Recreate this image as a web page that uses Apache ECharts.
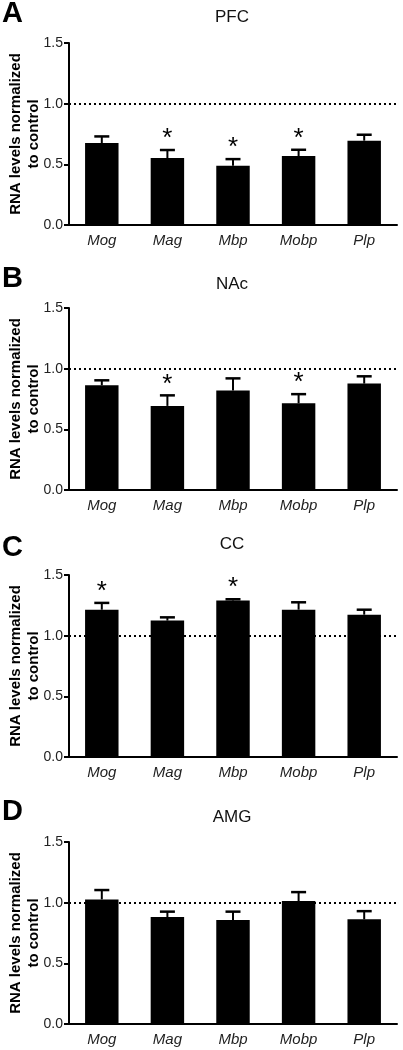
<!DOCTYPE html>
<html>
<head>
<meta charset="utf-8">
<script src="https://cdn.jsdelivr.net/npm/echarts@6/dist/echarts.min.js"></script>
<style>
html,body{margin:0;padding:0;background:#fff;}
#chart{width:403px;height:1050px;}
</style>
</head>
<body>
<div id="chart"></div>
<script>
// ---- data ----
var genes = ['Mog', 'Mag', 'Mbp', 'Mobp', 'Plp'];
var panelLetters = ['A', 'B', 'C', 'D'];
var regions = ['PFC', 'NAc', 'CC', 'AMG'];
var yTicks = [0, 0.5, 1.0, 1.5];
var controlLevel = 1.0;

var pfcMean = [0.676, 0.552, 0.488, 0.568, 0.695];
var pfcSem  = [0.054, 0.066, 0.055, 0.052, 0.049];
var pfcSig  = [0, 1, 1, 1, 0];

var nacMean = [0.863, 0.693, 0.820, 0.715, 0.877];
var nacSem  = [0.041, 0.087, 0.100, 0.075, 0.060];
var nacSig  = [0, 1, 0, 1, 0];

var ccMean  = [1.214, 1.124, 1.289, 1.214, 1.173];
var ccSem   = [0.056, 0.027, 0.011, 0.061, 0.041];
var ccSig   = [1, 0, 1, 0, 0];

var amgMean = [1.027, 0.882, 0.857, 1.013, 0.863];
var amgSem  = [0.077, 0.044, 0.069, 0.074, 0.067];
var amgSig  = [0, 0, 0, 0, 0];

var means = [pfcMean, nacMean, ccMean, amgMean];
var sems  = [pfcSem, nacSem, ccSem, amgSem];
var sigs  = [pfcSig, nacSig, ccSig, amgSig];

// ---- layout ----
var FONT = '"Liberation Sans", Arial, Helvetica, sans-serif';
var gridTops = [43, 308, 575, 842];
var gridH = 182;
var letterY = [14, 279, 548, 812];
var titleY = [17, 284, 544, 817];

var chart = echarts.init(document.getElementById('chart'), null, {renderer: 'canvas'});

var grids = [], xAxes = [], yAxes = [], series = [], titles = [];

for (var p = 0; p < 4; p++) {
  grids.push({left: 69, right: 6, top: gridTops[p], height: gridH, containLabel: false, outerBoundsMode: 'none'});
  xAxes.push({
    type: 'category', gridIndex: p, data: genes,
    axisLine: {lineStyle: {color: '#000', width: 2}},
    axisTick: {alignWithLabel: true, length: 4, lineStyle: {color: '#000', width: 2}},
    axisLabel: {fontFamily: FONT, fontSize: 15, fontStyle: 'italic', color: '#222', margin: 8}
  });
  yAxes.push({
    type: 'value', gridIndex: p, min: 0, max: 1.5, interval: 0.5,
    name: 'RNA levels normalized\nto control',
    nameLocation: 'middle', nameGap: 26, nameRotate: 90, nameMoveOverlap: false,
    nameTextStyle: {fontFamily: FONT, fontSize: 15, fontWeight: 'bold', color: '#000', lineHeight: 18, align: 'center'},
    axisLine: {show: true, lineStyle: {color: '#000', width: 2}},
    axisTick: {show: true, length: 5, lineStyle: {color: '#000', width: 2}},
    axisLabel: {fontFamily: FONT, fontSize: 14, color: '#222', margin: 6,
      formatter: function (v) { return v.toFixed(1); }},
    splitLine: {show: false}
  });

  series.push({
    type: 'bar', xAxisIndex: p, yAxisIndex: p,
    data: means[p], barWidth: '51%',
    itemStyle: {color: '#000'},
    silent: true,
    markLine: {
      silent: true, symbol: 'none',
      label: {show: false},
      lineStyle: {color: '#000', type: [2, 3], width: 2},
      data: [{yAxis: controlLevel}]
    },
    z: 2
  });

  (function (pi) {
    series.push({
      type: 'custom', xAxisIndex: pi, yAxisIndex: pi,
      data: means[pi].map(function (m, i) { return [i, m, m + sems[pi][i]]; }),
      renderItem: function (params, api) {
        var base = api.coord([api.value(0), api.value(1)]);
        var top = api.coord([api.value(0), api.value(2)]);
        var cap = 7.5;
        return {
          type: 'group',
          children: [
            {type: 'line', shape: {x1: base[0], y1: base[1], x2: top[0], y2: top[1]},
              style: {stroke: '#000', lineWidth: 2}},
            {type: 'line', shape: {x1: top[0] - cap, y1: top[1], x2: top[0] + cap, y2: top[1]},
              style: {stroke: '#000', lineWidth: 2.5}}
          ]
        };
      },
      z: 3
    });
    series.push({
      type: 'custom', xAxisIndex: pi, yAxisIndex: pi,
      data: means[pi].map(function (m, i) { return [i, m + sems[pi][i], sigs[pi][i]]; }),
      renderItem: function (params, api) {
        if (!api.value(2)) return null;
        var pt = api.coord([api.value(0), api.value(1)]);
        return {
          type: 'text',
          style: {text: '*', x: pt[0], y: pt[1] + 2, align: 'center', verticalAlign: 'bottom',
            fontFamily: FONT, fontSize: 26, fill: '#000'}
        };
      },
      z: 4
    });
  })(p);

  titles.push({
    text: regions[p], left: 232, top: titleY[p] - 9, padding: 0,
    textAlign: 'center',
    textStyle: {fontFamily: FONT, fontSize: 17, fontWeight: 'normal', color: '#111', lineHeight: 18}
  });
  titles.push({
    text: panelLetters[p], left: 2, top: letterY[p] - 15, padding: 0,
    textStyle: {fontFamily: FONT, fontSize: 29, fontWeight: 'bold', color: '#000', lineHeight: 30}
  });
}

chart.setOption({
  animation: false,
  backgroundColor: '#fff',
  title: titles,
  grid: grids,
  xAxis: xAxes,
  yAxis: yAxes,
  series: series
});
</script>
</body>
</html>
